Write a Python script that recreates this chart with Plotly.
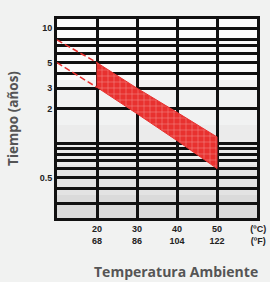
import plotly.graph_objects as go

# Data
temps_c = [10, 20, 30, 40, 50]
upper_years = [7.9, 5.0, 3.0, 1.85, 1.13]
lower_years = [5.0, 3.05, 1.8, 1.05, 0.6]

x_tickvals = [20, 30, 40, 50, 60]
x_ticktext = ["20<br>68", "30<br>86", "40<br>104", "50<br>122", " (ºC)<br> (ºF)"]

y_tickvals = [0.3, 0.4, 0.5, 0.6, 0.7, 0.8, 0.9, 1, 2, 3, 4, 5, 6, 7, 8, 10]
y_labels = {0.5: "0.5", 2: "2", 3: "3", 5: "5", 10: "10"}
y_ticktext = [y_labels.get(v, "") for v in y_tickvals]

RED = "#e8312f"
PAGE_BG = "#f1f2f1"

fig = go.Figure()

# dashed extrapolation (10..20 °C)
fig.add_trace(go.Scatter(x=temps_c[:2], y=upper_years[:2], mode="lines",
                         line=dict(color=RED, width=1.5, dash="6px,3px"),
                         hoverinfo="skip", showlegend=False))
fig.add_trace(go.Scatter(x=temps_c[:2], y=lower_years[:2], mode="lines",
                         line=dict(color=RED, width=1.5, dash="6px,3px"),
                         hoverinfo="skip", showlegend=False))

# hatched band (20..50 °C)
bx = temps_c[1:] + temps_c[1:][::-1] + [temps_c[1]]
by = upper_years[1:] + lower_years[1:][::-1] + [upper_years[1]]
fig.add_trace(go.Scatter(x=bx, y=by, mode="lines", fill="toself",
                         fillcolor=RED,
                         fillpattern=dict(shape="+", bgcolor=RED, fgcolor="white",
                                          size=6, solidity=0.15, fillmode="overlay"),
                         line=dict(color=RED, width=1),
                         hoverinfo="skip", showlegend=False))

# background shading bands of the plot area
bands = [(0.6935, 1.0, "#fbfbfb"), (0.467, 0.6935, "#f1f2f2"),
         (0.266, 0.467, "#ebebeb"), (0.116, 0.266, "#e3e3e3"), (0.0, 0.116, "#dadada")]
shapes = []
for y0, y1, c in bands:
    shapes.append(dict(type="rect", xref="x domain", yref="y domain", x0=0, x1=1,
                       y0=y0, y1=y1, fillcolor=c, line=dict(width=0), layer="below"))

fig.update_layout(
    width=270, height=282, autosize=False,
    margin=dict(l=57, r=13, t=19, b=64, autoexpand=False),
    paper_bgcolor=PAGE_BG, plot_bgcolor="#f6f6f6",
    shapes=shapes,
    font=dict(family="Liberation Sans, Arial", size=9, color="#222"),
    xaxis=dict(range=[10, 60], tickvals=x_tickvals, ticktext=x_ticktext,
               showgrid=True, gridcolor="#111", gridwidth=2.5,
               showline=True, linecolor="#111", linewidth=3, mirror=True,
               ticks="", zeroline=False, automargin=False,
               tickfont=dict(family="Liberation Sans, Arial", size=9, color="#222", weight="bold")),
    yaxis=dict(type="log", range=[-0.652, 1.079], tickvals=y_tickvals, ticktext=y_ticktext,
               showgrid=True, gridcolor="#111", gridwidth=2.5,
               showline=True, linecolor="#111", linewidth=3, mirror=True,
               ticks="", zeroline=False, automargin=False,
               tickfont=dict(family="Liberation Sans, Arial", size=9, color="#222", weight="bold"),
               title=dict(text="Tiempo (años)", standoff=18,
                          font=dict(family="Open Sans", size=13.5, color="#555", weight="bold"))),
    annotations=[dict(text="Temperatura Ambiente", xref="paper", yref="paper",
                      x=1.015, y=-0.27, xanchor="right", yanchor="middle", showarrow=False,
                      font=dict(family="Open Sans", size=14, color="#555", weight="bold"))],
)

fig.write_html("out.html", config={"displayModeBar": False},
               post_script="document.body.style.margin='0';"
                           "document.body.style.overflow='hidden';"
                           f"document.body.style.background='{PAGE_BG}';")
